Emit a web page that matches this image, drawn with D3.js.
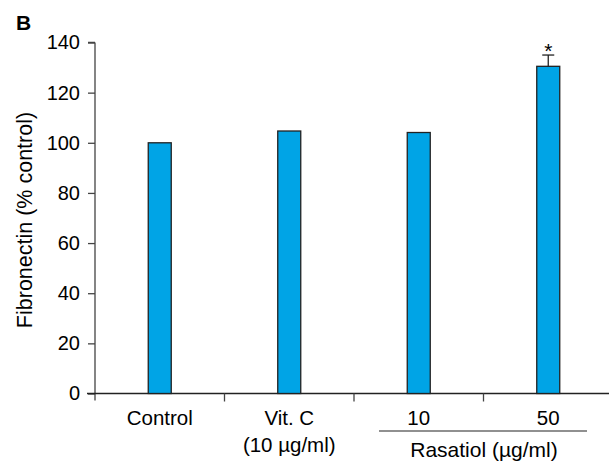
<!DOCTYPE html>
<html><head><meta charset="utf-8">
<script src="https://cdn.jsdelivr.net/npm/d3@7"></script>
<style>body{margin:0;background:#fff}text{font-family:Arial,"Liberation Sans",sans-serif;fill:#000}</style>
</head><body>
<svg id="c" width="609" height="461"></svg>
<script>
const categories = ["Control", "Vit. C", "10", "50"];
const values = [100, 104.7, 104.1, 130.5];
const errors = [0, 0, 0, 4.5];
const significance = ["", "", "", "*"];
const yTicks = [0, 20, 40, 60, 80, 100, 120, 140];

const svg = d3.select("#c");
const x0 = 95, xEnd = 613, yTop = 42.5, yBot = 393.5;
const x = d3.scaleBand().domain(categories).range([x0, xEnd]).paddingInner(0).paddingOuter(0);
const y = d3.scaleLinear().domain([0, 140]).range([yBot, yTop]);
const bw = 23;

// y axis
const ya = svg.append("g").attr("transform", `translate(${x0},0)`)
  .call(d3.axisLeft(y).tickValues(yTicks).tickSize(7).tickPadding(8));
ya.select(".domain").attr("d", `M0,${yTop}H-7M0,${yTop}V${yBot+7}`).attr("stroke","#444").attr("stroke-width",1.3);
ya.selectAll(".tick line").attr("stroke","#444").attr("stroke-width",1.3);
ya.selectAll(".tick text").attr("font-size",20).attr("fill","#000");

// x axis line
svg.append("line").attr("x1",87).attr("x2",609).attr("y1",yBot).attr("y2",yBot).attr("stroke","#222").attr("stroke-width",1.3);
// separator ticks
categories.slice(1).forEach(c => {
  svg.append("line").attr("x1",x(c)).attr("x2",x(c)).attr("y1",yBot).attr("y2",yBot+8).attr("stroke","#444").attr("stroke-width",1.3);
});

// bars
svg.selectAll("rect.bar").data(categories).join("rect")
  .attr("x", (d)=>x(d)+x.bandwidth()/2-bw/2)
  .attr("width", bw)
  .attr("y", (d,i)=>y(values[i]))
  .attr("height", (d,i)=>yBot-y(values[i]))
  .attr("fill","#00a4e6").attr("stroke","#222").attr("stroke-width",1.3);

// error bars
categories.forEach((c,i)=>{
  const cx = x(c)+x.bandwidth()/2;
  if(errors[i]>0){
    svg.append("line").attr("x1",cx).attr("x2",cx).attr("y1",y(values[i])).attr("y2",y(values[i]+errors[i])).attr("stroke","#222").attr("stroke-width",1.3);
    svg.append("line").attr("x1",cx-6).attr("x2",cx+6).attr("y1",y(values[i]+errors[i])).attr("y2",y(values[i]+errors[i])).attr("stroke","#222").attr("stroke-width",1.3);
  }
  if(significance[i]){
    svg.append("text").attr("x",cx).attr("y",y(values[i]+errors[i])+3).attr("text-anchor","middle").attr("font-size",21).text(significance[i]);
  }
});

// x labels
categories.forEach((c)=>{
  svg.append("text").attr("x",x(c)+x.bandwidth()/2).attr("y",425).attr("text-anchor","middle").attr("font-size",20.5).text(c);
});
svg.append("text").attr("x",x("Vit. C")+x.bandwidth()/2).attr("y",452).attr("text-anchor","middle").attr("font-size",20.5).text("(10 µg/ml)");
svg.append("line").attr("x1",379).attr("x2",587).attr("y1",431).attr("y2",431).attr("stroke","#222").attr("stroke-width",1.2);
svg.append("text").attr("x",484).attr("y",456.5).attr("text-anchor","middle").attr("font-size",21).text("Rasatiol (µg/ml)");

// y label
svg.append("text").attr("transform","translate(32,220) rotate(-90)").attr("text-anchor","middle").attr("font-size",21.5).text("Fibronectin (% control)");
// panel letter
svg.append("text").attr("x",16).attr("y",30).attr("font-size",21).attr("font-weight","bold").text("B");
</script>
</body></html>
